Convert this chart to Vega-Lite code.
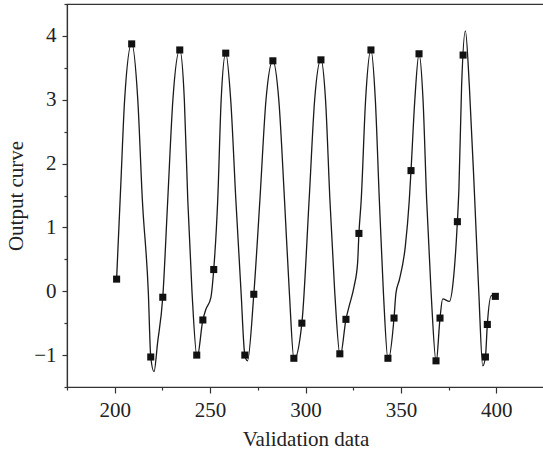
{
  "$schema": "https://vega.github.io/schema/vega-lite/v6.json",
  "width": 477,
  "height": 383,
  "autosize": {"type": "none"},
  "padding": {"left": 67, "top": 4, "right": 0, "bottom": 66},
  "background": "white",
  "config": {
    "view": {"stroke": "#333333", "strokeWidth": 1.2},
    "font": "Liberation Serif",
    "axis": {
      "labelFont": "Liberation Serif",
      "titleFont": "Liberation Serif",
      "labelFontSize": 21,
      "titleFontSize": 21,
      "titleFontWeight": "normal",
      "labelColor": "#222222",
      "titleColor": "#222222",
      "domainColor": "#333333",
      "tickColor": "#333333",
      "domainWidth": 1.2,
      "tickWidth": 1.2,
      "grid": false
    }
  },
  "datasets": {
    "curve": [
      {"x": 201.0, "y": 0.19}, {"x": 203.3, "y": 1.74}, {"x": 205.2, "y": 3.0}, {"x": 208.9, "y": 3.88},
      {"x": 212.1, "y": 3.0}, {"x": 214.5, "y": 1.43}, {"x": 217.6, "y": 0.0}, {"x": 218.9, "y": -1.03},
      {"x": 220.6, "y": -1.26}, {"x": 222.5, "y": -0.8}, {"x": 225.2, "y": -0.09}, {"x": 227.8, "y": 1.43},
      {"x": 230.5, "y": 3.0}, {"x": 234.1, "y": 3.78}, {"x": 236.5, "y": 3.0}, {"x": 238.3, "y": 1.43},
      {"x": 240.5, "y": 0.0}, {"x": 243.2, "y": -1.04}, {"x": 246.2, "y": -0.45}, {"x": 247.7, "y": -0.29},
      {"x": 250.4, "y": -0.1}, {"x": 251.9, "y": 0.34}, {"x": 254.0, "y": 1.43}, {"x": 255.8, "y": 3.0},
      {"x": 258.2, "y": 3.73}, {"x": 260.8, "y": 3.0}, {"x": 263.5, "y": 1.43}, {"x": 266.2, "y": 0.0},
      {"x": 268.2, "y": -1.0}, {"x": 269.6, "y": -1.09}, {"x": 272.9, "y": -0.05}, {"x": 276.1, "y": 1.43},
      {"x": 279.3, "y": 3.0}, {"x": 282.9, "y": 3.61}, {"x": 286.0, "y": 3.0}, {"x": 289.0, "y": 1.43},
      {"x": 291.5, "y": 0.0}, {"x": 294.0, "y": -1.07}, {"x": 298.1, "y": -0.5}, {"x": 301.9, "y": 1.43},
      {"x": 304.8, "y": 3.0}, {"x": 308.1, "y": 3.63}, {"x": 310.5, "y": 3.0}, {"x": 312.8, "y": 1.43},
      {"x": 315.3, "y": 0.0}, {"x": 318.2, "y": -1.02}, {"x": 321.2, "y": -0.44}, {"x": 322.9, "y": -0.23},
      {"x": 325.5, "y": 0.08}, {"x": 327.3, "y": 0.44}, {"x": 328.0, "y": 0.906}, {"x": 329.2, "y": 1.43},
      {"x": 331.5, "y": 3.0}, {"x": 334.3, "y": 3.78}, {"x": 336.6, "y": 3.0}, {"x": 338.7, "y": 1.43},
      {"x": 340.8, "y": 0.0}, {"x": 343.3, "y": -1.08}, {"x": 346.4, "y": -0.42}, {"x": 347.4, "y": -0.03},
      {"x": 349.2, "y": 0.18}, {"x": 352.3, "y": 0.7}, {"x": 354.4, "y": 1.43}, {"x": 355.3, "y": 1.89},
      {"x": 357.3, "y": 3.0}, {"x": 359.5, "y": 3.72}, {"x": 361.6, "y": 3.0}, {"x": 363.5, "y": 1.43},
      {"x": 365.8, "y": 0.0}, {"x": 368.5, "y": -1.11}, {"x": 370.5, "y": -0.42}, {"x": 371.9, "y": -0.12},
      {"x": 375.4, "y": -0.16}, {"x": 377.5, "y": 0.18}, {"x": 379.6, "y": 1.09}, {"x": 380.4, "y": 1.6},
      {"x": 381.8, "y": 3.2}, {"x": 383.8, "y": 4.08}, {"x": 385.9, "y": 3.2}, {"x": 388.7, "y": 1.43},
      {"x": 390.8, "y": 0.0}, {"x": 392.9, "y": -1.17}, {"x": 394.3, "y": -1.03}, {"x": 395.3, "y": -0.52},
      {"x": 397.4, "y": -0.07}, {"x": 399.5, "y": -0.08}
    ],
    "markers": [
      {"x": 201.0, "y": 0.19}, {"x": 208.9, "y": 3.875}, {"x": 218.9, "y": -1.03}, {"x": 225.2, "y": -0.094},
      {"x": 234.1, "y": 3.78}, {"x": 243.0, "y": -1.0}, {"x": 246.2, "y": -0.45}, {"x": 251.9, "y": 0.34},
      {"x": 258.2, "y": 3.73}, {"x": 268.2, "y": -1.0}, {"x": 272.9, "y": -0.047}, {"x": 282.9, "y": 3.61},
      {"x": 293.9, "y": -1.05}, {"x": 298.1, "y": -0.5}, {"x": 308.1, "y": 3.625}, {"x": 318.0, "y": -0.98},
      {"x": 321.2, "y": -0.44}, {"x": 328.0, "y": 0.906}, {"x": 334.3, "y": 3.78}, {"x": 343.2, "y": -1.05},
      {"x": 346.4, "y": -0.42}, {"x": 355.3, "y": 1.89}, {"x": 359.5, "y": 3.72}, {"x": 368.4, "y": -1.09},
      {"x": 370.5, "y": -0.42}, {"x": 379.6, "y": 1.09}, {"x": 382.6, "y": 3.7}, {"x": 394.3, "y": -1.03},
      {"x": 395.3, "y": -0.52}, {"x": 399.5, "y": -0.08}
    ]
  },
  "encoding": {
    "x": {
      "field": "x", "type": "quantitative",
      "scale": {"domain": [175, 425], "nice": false, "zero": false},
      "axis": {
        "title": "Validation data",
        "values": [175, 200, 225, 250, 275, 300, 325, 350, 375, 400, 425],
        "labelExpr": "datum.value % 50 === 0 ? datum.label : ''",
        "tickSize": {"condition": {"test": "datum.value % 50 === 0", "value": 6}, "value": 3},
        "labelPadding": 6,
        "titlePadding": 8
      }
    },
    "y": {
      "field": "y", "type": "quantitative",
      "scale": {"domain": [-1.5, 4.5], "nice": false, "zero": false},
      "axis": {
        "title": "Output curve",
        "values": [-1.5, -1, -0.5, 0, 0.5, 1, 1.5, 2, 2.5, 3, 3.5, 4, 4.5],
        "format": "~g",
        "labelExpr": "datum.value % 1 === 0 ? datum.label : ''",
        "tickSize": {"condition": {"test": "datum.value % 1 === 0", "value": 5}, "value": 3},
        "labelPadding": 6,
        "titlePadding": 7
      }
    }
  },
  "layer": [
    {
      "data": {"name": "curve"},
      "mark": {"type": "line", "interpolate": "monotone", "color": "#1a1a1a", "strokeWidth": 1.3}
    },
    {
      "data": {"name": "markers"},
      "mark": {"type": "point", "shape": "square", "filled": true, "size": 50, "color": "#111111", "opacity": 1}
    }
  ]
}
